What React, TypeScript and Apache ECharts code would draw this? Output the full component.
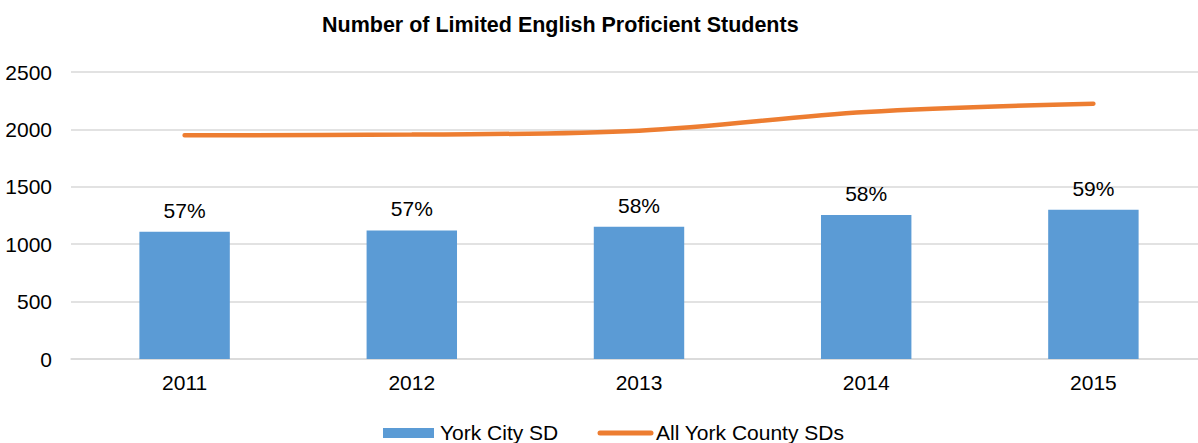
import React, { useEffect, useRef } from "react";
import * as echarts from "echarts";

const years = ["2011", "2012", "2013", "2014", "2015"];
const yorkCity = [1109, 1120, 1152, 1254, 1300];
const yorkCounty = [1948, 1955, 1989, 2152, 2224];
const shareLabels = ["57%", "57%", "58%", "58%", "59%"];
const seriesNames = ["York City SD", "All York County SDs"];

const FONT = "'Liberation Sans', Arial, sans-serif";
const BLUE = "#5B9BD5";
const ORANGE = "#ED7D31";

export default function App() {
  const ref = useRef<HTMLDivElement>(null);
  useEffect(() => {
    document.body.style.margin = "0";
    const chart = echarts.init(ref.current!, null, { renderer: "svg" });
    chart.setOption({
      animation: false,
      textStyle: { fontFamily: FONT, color: "#000" },
      title: {
        text: "Number of Limited English Proficient Students",
        left: 317,
        top: 9,
        textStyle: { fontFamily: FONT, fontSize: 21.5, fontWeight: "bold", color: "#000" },
      },
      grid: { left: 71, right: 0, top: 72, bottom: 84, containLabel: false },
      xAxis: {
        type: "category",
        data: years,
        axisTick: { show: false },
        axisLine: { show: true, lineStyle: { color: "#D9D9D9", width: 1.5 } },
        axisLabel: { fontFamily: FONT, fontSize: 21, color: "#000", margin: 13 },
      },
      yAxis: {
        type: "value",
        min: 0,
        max: 2500,
        interval: 500,
        axisLabel: {
          fontFamily: FONT,
          fontSize: 21,
          color: "#000",
          margin: 19,
          formatter: (v: number) => String(v),
        },
        splitLine: { lineStyle: { color: "#D9D9D9", width: 1.5 } },
        axisLine: { show: false },
        axisTick: { show: false },
      },
      graphic: [
        { type: "rect", left: 383, top: 428, shape: { width: 51, height: 10 }, style: { fill: BLUE } },
        {
          type: "text",
          left: 440,
          top: 422,
          style: { text: seriesNames[0], fontFamily: FONT, fontSize: 21, fill: "#000" },
        },
        {
          type: "line",
          shape: { x1: 600, y1: 433, x2: 651, y2: 433 },
          style: { stroke: ORANGE, lineWidth: 5, lineCap: "round" },
        },
        {
          type: "text",
          left: 656,
          top: 422,
          style: { text: seriesNames[1], fontFamily: FONT, fontSize: 21, fill: "#000" },
        },
      ],
      series: [
        {
          name: seriesNames[0],
          type: "bar",
          data: yorkCity,
          barWidth: "39.8%",
          itemStyle: { color: BLUE },
          label: {
            show: true,
            position: "top",
            distance: 11,
            fontFamily: FONT,
            fontSize: 21,
            color: "#000",
            formatter: (p: any) => shareLabels[p.dataIndex],
          },
        },
        {
          name: seriesNames[1],
          type: "line",
          data: yorkCounty,
          smooth: 0.35,
          symbol: "none",
          lineStyle: { color: ORANGE, width: 4.5, cap: "round" },
          itemStyle: { color: ORANGE },
        },
      ],
    });
    return () => chart.dispose();
  }, []);
  return (
    <div style={{ width: 1198, height: 443, overflow: "hidden", position: "relative" }}>
      <div ref={ref} style={{ width: 1207, height: 443 }} />
    </div>
  );
}
